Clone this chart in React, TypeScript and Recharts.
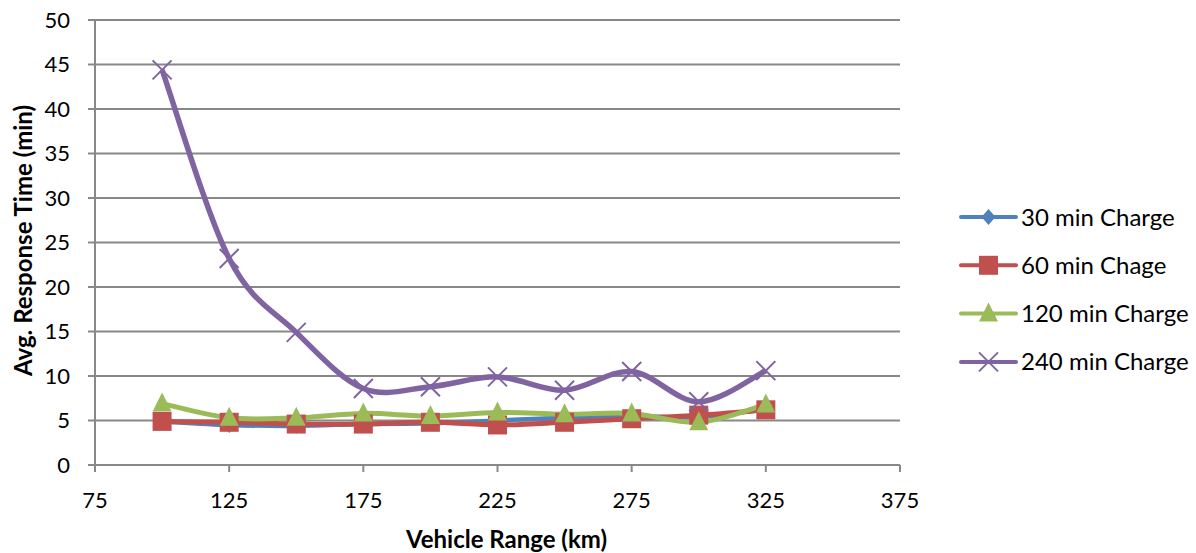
import React from 'react';
import { LineChart, Line, XAxis, YAxis, CartesianGrid, Legend, Label } from 'recharts';

// Vehicle range (km) on the x axis
const vehicleRanges = [100, 125, 150, 175, 200, 225, 250, 275, 300, 325];

// Average response time (min) for each charging duration
const charge30 = [4.9, 4.5, 4.4, 4.6, 4.7, 5.0, 5.3, 5.5, 5.4, 6.3];
const charge60 = [4.9, 4.8, 4.6, 4.6, 4.8, 4.5, 4.8, 5.2, 5.6, 6.2];
const charge120 = [6.9, 5.3, 5.3, 5.8, 5.5, 5.9, 5.7, 5.8, 4.8, 6.8];
const charge240 = [44.4, 23.2, 14.9, 8.6, 8.8, 9.9, 8.4, 10.5, 7.1, 10.6];

const xTicks = [75, 125, 175, 225, 275, 325, 375];
const yTicks = [0, 5, 10, 15, 20, 25, 30, 35, 40, 45, 50];

const FONT = 'Lato, "Open Sans", sans-serif';
const GRID = '#888888';

type MarkerShape = 'diamond' | 'square' | 'triangle' | 'cross';

const series: { key: string; name: string; color: string; marker: MarkerShape; width: number }[] = [
  { key: 'c30', name: '30 min Charge', color: '#4F81BD', marker: 'diamond', width: 4.5 },
  { key: 'c60', name: '60 min Chage', color: '#C0504D', marker: 'square', width: 5 },
  { key: 'c120', name: '120 min Charge', color: '#9BBB59', marker: 'triangle', width: 5 },
  { key: 'c240', name: '240 min Charge', color: '#8064A2', marker: 'cross', width: 5.5 },
];

const data = vehicleRanges.map((range, i) => ({
  range,
  c30: charge30[i],
  c60: charge60[i],
  c120: charge120[i],
  c240: charge240[i],
}));

// Smoothed line through every point (cubic Bezier, Catmull-Rom style tangents)
const smoothCurve = (context: any) => {
  let pts: [number, number][] = [];
  return {
    areaStart() {},
    areaEnd() {},
    lineStart() {
      pts = [];
    },
    point(x: number, y: number) {
      pts.push([+x, +y]);
    },
    lineEnd() {
      const n = pts.length;
      if (!n) return;
      context.moveTo(pts[0][0], pts[0][1]);
      for (let i = 0; i < n - 1; i++) {
        const p0 = pts[Math.max(i - 1, 0)];
        const p1 = pts[i];
        const p2 = pts[i + 1];
        const p3 = pts[Math.min(i + 2, n - 1)];
        const c1x = p1[0] + (p2[0] - p0[0]) / 6;
        const c1y = p1[1] + (p2[1] - p0[1]) / 6;
        const c2x = p2[0] - (p3[0] - p1[0]) / 6;
        const c2y = p2[1] - (p3[1] - p1[1]) / 6;
        context.bezierCurveTo(c1x, c1y, c2x, c2y, p2[0], p2[1]);
      }
    },
  };
};

function Marker({ shape, cx, cy, color }: { shape: MarkerShape; cx: number; cy: number; color: string }) {
  switch (shape) {
    case 'diamond':
      return (
        <polygon
          points={`${cx},${cy - 8} ${cx + 7},${cy} ${cx},${cy + 8} ${cx - 7},${cy}`}
          fill={color}
        />
      );
    case 'square':
      return <rect x={cx - 9.5} y={cy - 9.5} width={19} height={19} fill={color} />;
    case 'triangle':
      return (
        <polygon
          points={`${cx},${cy - 11} ${cx + 9.5},${cy + 8} ${cx - 9.5},${cy + 8}`}
          fill={color}
        />
      );
    case 'cross':
    default:
      return (
        <g stroke={color} strokeWidth={2}>
          <line x1={cx - 9.5} y1={cy - 9.5} x2={cx + 9.5} y2={cy + 9.5} />
          <line x1={cx - 9.5} y1={cy + 9.5} x2={cx + 9.5} y2={cy - 9.5} />
        </g>
      );
  }
}

const makeDot = (shape: MarkerShape, color: string) => (props: any) => {
  const { cx, cy, index } = props;
  if (cx == null || cy == null) return <g key={`m-${index}`} />;
  return (
    <g key={`m-${shape}-${index}`}>
      <Marker shape={shape} cx={cx} cy={cy} color={color} />
    </g>
  );
};

const LEGEND_W = 240;
const LEGEND_H = 190;

function LegendBox() {
  const rowGap = 48.3;
  return (
    <svg width={LEGEND_W} height={LEGEND_H} style={{ display: 'block' }}>
      {series.map((s, i) => {
        const cy = 22 + i * rowGap;
        return (
          <g key={s.key}>
            <line x1={6} y1={cy} x2={61} y2={cy} stroke={s.color} strokeWidth={4} strokeLinecap="round" />
            <Marker shape={s.marker} cx={33.5} cy={cy} color={s.color} />
            <text x={66} y={cy + 8.5} fontFamily={FONT} fontSize={24} fill="#000">
              {s.name}
            </text>
          </g>
        );
      })}
    </svg>
  );
}

export default function App() {
  return (
    <div style={{ position: 'absolute', left: 0, top: 0, width: 1196, height: 553, background: '#fff' }}>
      <LineChart
        width={1196}
        height={553}
        data={data}
        margin={{ top: 20, right: 296 - LEGEND_W, bottom: 0, left: 0 }}
      >
        <CartesianGrid horizontal vertical={false} stroke={GRID} strokeWidth={2} />
        <XAxis
          dataKey="range"
          type="number"
          domain={[75, 375]}
          ticks={xTicks}
          height={88}
          axisLine={{ stroke: GRID, strokeWidth: 2 }}
          tickLine={{ stroke: GRID, strokeWidth: 2 }}
          tickSize={7}
          tickMargin={20}
          tick={{ fill: '#000', fontSize: 22, fontFamily: FONT }}
          interval={0}
        >
          <Label
            content={(props: any) => {
              const vb = props.viewBox || {};
              return (
                <text
                  x={vb.x + vb.width / 2 + 9}
                  y={vb.y + 83}
                  textAnchor="middle"
                  fontFamily={FONT}
                  fontWeight="bold"
                  fontSize={24}
                  fill="#000"
                >
                  Vehicle Range (km)
                </text>
              );
            }}
          />
        </XAxis>
        <YAxis
          type="number"
          domain={[0, 50]}
          ticks={yTicks}
          width={95}
          axisLine={{ stroke: GRID, strokeWidth: 2 }}
          tickLine={{ stroke: GRID, strokeWidth: 2 }}
          tickSize={7}
          tickMargin={18}
          tick={{ fill: '#000', fontSize: 22, fontFamily: FONT }}
          interval={0}
        >
          <Label
            content={(props: any) => {
              const vb = props.viewBox || {};
              const cx = 22;
              const cy = vb.y + vb.height / 2 - 2;
              return (
                <text
                  x={cx}
                  y={cy}
                  transform={`rotate(-90 ${cx} ${cy})`}
                  textAnchor="middle"
                  dominantBaseline="central"
                  fontFamily={FONT}
                  fontWeight="bold"
                  fontSize={24}
                  fill="#000"
                >
                  Avg. Response Time (min)
                </text>
              );
            }}
          />
        </YAxis>
        <Legend
          layout="vertical"
          align="right"
          verticalAlign="middle"
          width={LEGEND_W}
          height={LEGEND_H}
          wrapperStyle={{ left: 955, top: 195, right: 'auto' }}
          content={() => <LegendBox />}
        />
        {series.map((s) => (
          <Line
            key={s.key}
            dataKey={s.key}
            name={s.name}
            type={smoothCurve as any}
            stroke={s.color}
            strokeWidth={s.width}
            dot={makeDot(s.marker, s.color)}
            activeDot={false}
            isAnimationActive={false}
          />
        ))}
      </LineChart>
    </div>
  );
}
